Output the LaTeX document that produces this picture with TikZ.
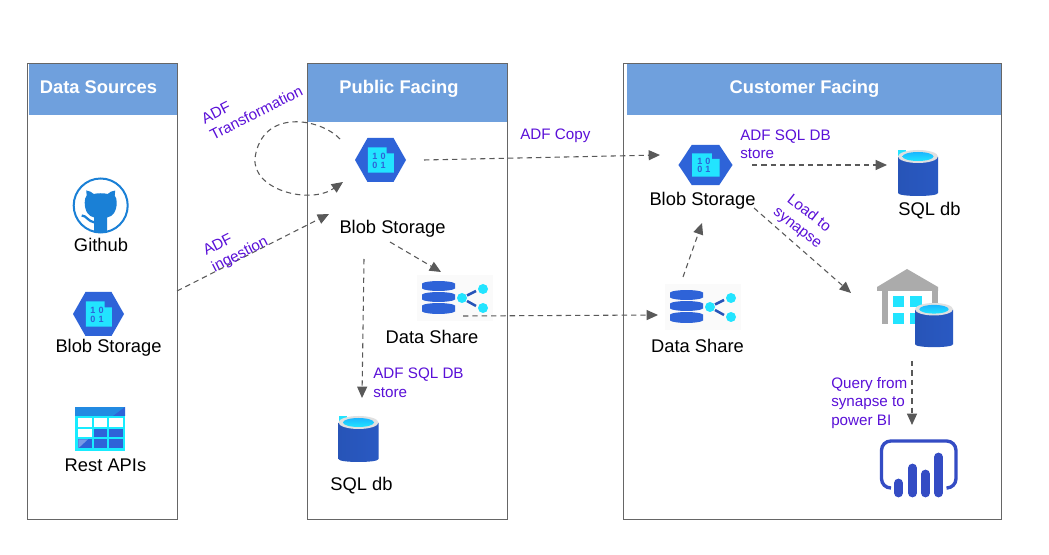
\documentclass[tikz,border=0pt]{standalone}
\usepackage{fontspec}
\setmainfont{Liberation Sans}
\usetikzlibrary{arrows.meta}
\definecolor{hdr}{HTML}{6FA0DD}
\definecolor{boxline}{HTML}{666666}
\definecolor{conn}{HTML}{595959}
\definecolor{purp}{HTML}{5A10D8}
\definecolor{azblue}{HTML}{2E63D8}
\definecolor{azcyan}{HTML}{22E4FF}
\definecolor{ghblue}{HTML}{1A80D6}
\definecolor{pbi}{HTML}{344CC4}
\definecolor{whgray}{HTML}{ABABAB}
\tikzset{
  panel/.style={draw=boxline,line width=.65pt},
  header/.style={fill=hdr},
  hdrtext/.style={inner sep=0pt,anchor=base,text=white,font=\fontsize{13.75}{16}\selectfont\bfseries},
  lbl/.style={inner sep=0pt,anchor=base,text=black,font=\fontsize{13.75}{16}\selectfont},
  note/.style={inner sep=0pt,text=purp,align=left,font=\fontsize{11.4}{13.9}\selectfont},
  flow/.style={draw=conn,line width=.8pt,dash pattern=on 4pt off 3pt,
    -{Triangle[length=8.5pt,width=7.5pt,fill=conn]}},
  blob/.pic={
    \fill[azblue] (-25.5,0)--(-13,-22)--(13,-22)--(25.5,0)--(13,22)--(-13,22)--cycle;
    \fill[azcyan] (-12.7,-12.7)--(6,-12.7)--(6,-6.7)--(13.3,-6.7)--(13.3,12.7)--(-12.7,12.7)--cycle;
    \node (a) at (-1.5,-4) [inner sep=0pt,text=azblue,font=\fontsize{6.8}{8}\selectfont\bfseries] {1\,\,0};
    \node (b) at (-1.5,5) [inner sep=0pt,text=azblue,font=\fontsize{6.8}{8}\selectfont\bfseries] {0\,\,1};
  },
  cyl/.pic={
    \path[left color=azblue!85!black,middle color=azblue,right color=azblue!90!black]
      (-20,7) -- (-20,43) .. controls (-20,45) and (-10,46) .. (0,46)
      .. controls (10,46) and (20,45) .. (20,43) -- (20,7) -- cycle;
    \fill[black!12] (0,6.5) ellipse [x radius=20,y radius=6.5];
    \path[top color=azcyan!80!blue,bottom color=azcyan] (0,6.5) ellipse [x radius=15.5,y radius=4.5];
  },
  sqlicon/.pic={
    \fill[azcyan] (-20,0) rectangle (-12,6);
    \pic {cyl};
  },
  disc/.style={fill=azblue},
  share/.pic={
    \fill[black!2] (0,0) rectangle (76,46);
    \foreach \yt/\yb in {6.5/15.5,17.5/26.5,28.5/38.5}
      {\path[disc] (5,\yt+2) .. controls (9,\yt-1.3) and (34,\yt-1.3) .. (38,\yt+2) -- (38,\yb-2)
         .. controls (34,\yb+1.3) and (9,\yb+1.3) .. (5,\yb-2) -- cycle;}
    \draw[azblue!85!black,line width=1.9pt] (50,20.5)--(59,16) (50,26)--(59,31);
    \fill[azcyan] (45,23) circle [radius=5];
    \fill[azcyan] (66,14) circle [radius=5];
    \fill[azcyan] (66,33) circle [radius=5];
  },
  github/.pic={
    \draw[ghblue,fill=white,line width=1.5pt] (0,0) circle [radius=27];
    \fill[ghblue] (-6.5,26.5) -- (-6.5,12) .. controls (-12,11) and (-16,6) .. (-16,-3)
      .. controls (-16,-6) and (-15.5,-8) .. (-14,-10) -- (-14.5,-15)
      .. controls (-11,-15) and (-9,-13) .. (-7,-11.5)
      .. controls (-3,-12.5) and (3,-12.5) .. (7,-11.5)
      .. controls (9,-13) and (11,-15) .. (14.5,-15) -- (14,-10)
      .. controls (15.5,-8) and (16,-6) .. (16,-3)
      .. controls (16,6) and (12,11) .. (6.5,12) -- (6.5,26.5) -- cycle;
    \draw[ghblue,line width=1.7pt] (-19,10) .. controls (-14,10) and (-13,16) .. (-6,17);
  },
  apitable/.pic={
    \fill[azcyan!70!cyan] (0,9) rectangle (50,44);
    \fill[azblue!75!cyan] (0,0) rectangle (50,9);
    \fill[azblue] (38,9)--(50,0)--(50,9)--cycle;
    \foreach \xa/\xb/\ya/\yb/\c in {3.3/17/11.3/19.7/white,18.6/32.3/11.3/19.7/white,34/47.6/11.3/19.7/white,
       3.3/17/22/30.3/white,18.6/32.3/22/30.3/azblue,34/47.6/22/30.3/azblue,
       3.3/17/32.3/41.3/azblue,18.6/32.3/32.3/41.3/azblue,34/47.6/32.3/41.3/azblue}
      {\fill[\c] (\xa,\ya) rectangle (\xb,\yb);}
    \fill[azblue!65!white] (3.3,41.3)--(3.3,32.3)--(13,32.3)--cycle;
  },
  warehouse/.pic={
    \fill[whgray] (0,18)--(30,0)--(61,18)--(61,22)--(0,22)--cycle;
    \fill[whgray] (5,22) rectangle (11,55);
    \fill[whgray] (55,22) rectangle (61,36);
    \fill[azcyan] (16,27) rectangle (27,38);
    \fill[azcyan] (33,27) rectangle (45,38);
    \fill[azcyan] (16,44) rectangle (27,55);
    \fill[azcyan] (33,44) rectangle (39,55);
  },
  powerbi/.pic={
    \draw[pbi,line width=2.5pt,line cap=round,rounded corners=7pt] (890,488)--(881.5,488)--(881.5,441)--(956,441)--(956,488)--(948,488);
    \foreach \bx/\by in {898.5/483,912.5/468,925.5/474,938.5/457}
      {\draw[pbi,line width=6.6pt,line cap=round] (\bx,\by)--(\bx,493);}
  },
}
\begin{document}
\begin{tikzpicture}[x=.75pt,y=-.75pt]
\useasboundingbox (0,0) rectangle (1049,555);
% panels
\fill[white] (0,0) rectangle (1049,555);
\path[header] (29,64) rectangle (177,115);
\path[header] (307.5,64) rectangle (507,122);
\path[header] (627,64) rectangle (1001,115);
\draw[panel] (27.3,63) rectangle (177,519);
\draw[panel] (307.5,63) rectangle (507,519);
\draw[panel] (623.5,63) rectangle (1001,519);
\node[hdrtext] (h1) at (98.5,93.5) {Data Sources};
\node[hdrtext] (h2) at (399,93.5) {Public Facing};
\node[hdrtext] (h3) at (804.5,93.5) {Customer Facing};
% icons
\pic (gh) at (100.7,205.5) {github};
\pic (b1) at (98.5,314) {blob};
\pic (api) at (75,407) {apitable};
\pic (b2) at (380.5,160) {blob};
\pic (s2) at (417,275) {share};
\pic (q2) at (358.5,416) {sqlicon};
\pic[xscale=1.06,yscale=.91] (b3) at (705.5,165) {blob};
\pic (s3) at (665,284) {share};
\pic (q3) at (918,150) {sqlicon};
\pic (wh) at (877,269) {warehouse};
\pic[xscale=.95,yscale=.96] (cy) at (934,303) {cyl};
\pic (pb) at (0,0) {powerbi};
% labels
\node[lbl] (l1) at (101,252) {Github};
\node[lbl] (l2) at (108.5,353) {Blob Storage};
\node[lbl] (l3) at (105.5,471.5) {Rest APIs};
\node[lbl] (l4) at (392.5,233.7) {Blob Storage};
\node[lbl] (l5) at (432,343.5) {Data Share};
\node[lbl] (l6) at (361.5,490.5) {SQL db};
\node[lbl] (l7) at (702.5,206) {Blob Storage};
\node[lbl] (l8) at (697.5,352.5) {Data Share};
\node[lbl] (l9) at (929.5,215.7) {SQL db};
% connector ends
\coordinate (ingA) at (177,291);
\coordinate (ingB) at (329,214);
\coordinate (loopA) at (340,139);
\coordinate (loopB) at (343,182);
\coordinate (copyA) at (424,160);
\coordinate (copyB) at (660,155);
\coordinate (bsA) at (390,242);
\coordinate (bsB) at (441,272);
\coordinate (bqA) at (364,259);
\coordinate (bqB) at (362,398);
\coordinate (ssA) at (463,316);
\coordinate (ssB) at (658,315);
\coordinate (sbA) at (683,277);
\coordinate (sbB) at (702,223);
\coordinate (cqA) at (752,165);
\coordinate (cqB) at (887,165);
\coordinate (lsA) at (754,208);
\coordinate (lsB) at (851,293);
\coordinate (spA) at (912,361);
\coordinate (spB) at (912,425);
% connectors
\draw[flow] (ingA) -- (ingB);
\draw[flow] (loopA) .. controls (320,118) and (262,108) .. (255,158) .. controls (252,190) and (310,205) .. (loopB);
\draw[flow] (copyA) -- (copyB);
\draw[flow] (bsA) -- (bsB);
\draw[flow] (bqA) -- (bqB);
\draw[flow] (ssA) -- (ssB);
\draw[flow] (sbA) -- (sbB);
\draw[flow] (cqA) -- (cqB);
\draw[flow] (lsA) -- (lsB);
\draw[flow] (spA) -- (spB);
% notes
\node[note,rotate=27] (n1) at (252,105) {ADF\\Transformation};
\node[note,rotate=27] (n2) at (236,247) {ADF\\ingestion};
\node[note,anchor=west] (n3) at (520,136) {ADF Copy};
\node[note,anchor=west] (n4) at (373,383) {ADF SQL DB\\store};
\node[note,anchor=west] (n5) at (740,144.5) {ADF SQL DB\\store};
\node[note,rotate=-38,align=center] (n6) at (803,221) {Load to\\synapse};
\node[note,anchor=west] (n7) at (831,403) {Query from\\synapse to\\power BI};
\end{tikzpicture}
\end{document}
